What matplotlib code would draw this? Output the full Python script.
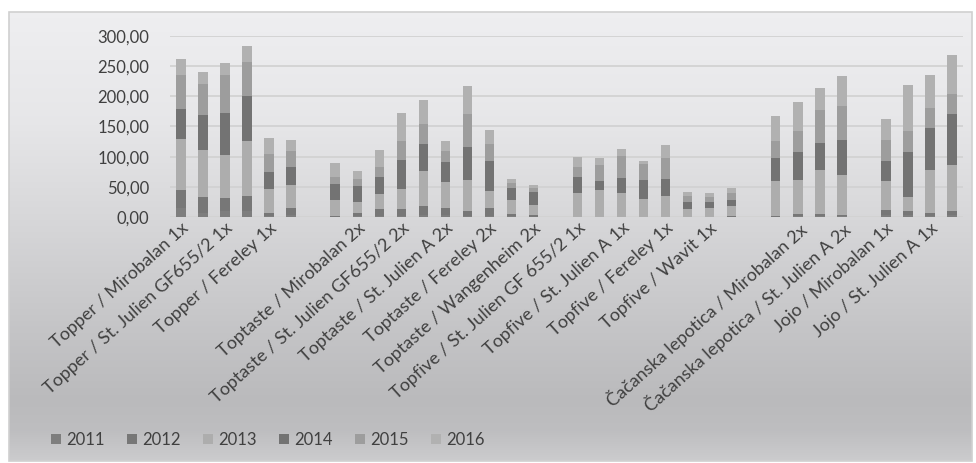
import numpy as np
import matplotlib.pyplot as plt
from matplotlib.patches import Rectangle

plt.rcParams['font.family'] = ['Lato', 'DejaVu Sans']

# cultivar / rootstock combinations, empty strings separate the cultivars
categories = [
    'Topper / Mirobalan 1x', 'Topper / Mirobalan 2x',
    'Topper / St. Julien GF655/2 1x', 'Topper / St. Julien GF655/2 2x',
    'Topper / Fereley 1x', 'Topper / Fereley 2x',
    '',
    'Toptaste / Mirobalan 1x', 'Toptaste / Mirobalan 2x',
    'Toptaste / St. Julien GF655/2 1x', 'Toptaste / St. Julien GF655/2 2x',
    'Toptaste / St. Julien A 1x', 'Toptaste / St. Julien A 2x',
    'Toptaste / Fereley 1x', 'Toptaste / Fereley 2x',
    'Toptaste / Wangenheim 1x', 'Toptaste / Wangenheim 2x',
    '',
    'Topfive / St. Julien GF 655/2 1x', 'Topfive / St. Julien GF 655/2 2x',
    'Topfive / St. Julien A 1x', 'Topfive / St. Julien A 2x',
    'Topfive / Fereley 1x', 'Topfive / Fereley 2x',
    'Topfive / Wavit 1x', 'Topfive / Wavit 2x',
    '',
    'Čačanska lepotica / Mirobalan 1x', 'Čačanska lepotica / Mirobalan 2x',
    'Čačanska lepotica / St. Julien A 1x', 'Čačanska lepotica / St. Julien A 2x',
    '',
    'Jojo / Mirobalan 1x', 'Jojo / Mirobalan 2x',
    'Jojo / St. Julien A 1x', 'Jojo / St. Julien A 2x',
]

years = ['2011', '2012', '2013', '2014', '2015', '2016']

y2011 = [15.6, 7.3, 9.4, 9.4, 2.0, 3.0, 0,
         0.5, 1.5, 2.0, 2.0, 3.0, 2.5, 2.0, 2.0, 1.0, 0.5, 0,
         0, 0, 0, 0, 0, 0, 0, 0.5, 0,
         0.5, 1.5, 1.5, 1.0, 0,
         3.0, 2.5, 1.5, 2.5]
y2012 = [29.8, 25.8, 22.1, 25.4, 4.6, 11.9, 0,
         1.2, 5.1, 11.9, 11.9, 15.2, 13.1, 7.9, 12.4, 4.6, 2.8, 0,
         0, 0, 0, 0, 0, 0, 0, 1.8, 0,
         1.8, 4.1, 4.1, 3.0, 0,
         9.3, 6.9, 5.1, 7.4]
y2013 = [84.4, 77.3, 70.7, 91.0, 39.8, 37.6, 0,
         27.1, 18.9, 24.8, 32.0, 58.0, 41.9, 50.9, 28.1, 22.0, 17.2, 0,
         40.4, 44.2, 40.4, 29.3, 34.3, 13.9, 15.6, 16.6, 0,
         56.8, 55.2, 71.7, 65.0, 0,
         46.8, 23.2, 70.7, 75.7]
y2014 = [49.7, 59.1, 70.0, 75.2, 27.6, 30.3, 0,
         26.5, 25.8, 27.0, 48.0, 44.7, 33.6, 54.6, 50.2, 21.1, 20.9, 0,
         25.3, 14.9, 23.7, 32.6, 29.3, 10.9, 9.2, 9.9, 0,
         38.1, 46.8, 44.7, 58.0, 0,
         33.1, 75.0, 69.6, 84.4]
y2015 = [56.5, 50.2, 62.4, 55.6, 29.8, 26.5, 0,
         11.6, 11.1, 17.7, 31.9, 33.1, 17.7, 55.1, 28.2, 8.0, 6.0, 0,
         17.1, 26.5, 37.6, 26.5, 33.6, 9.5, 7.8, 10.9, 0,
         28.1, 34.8, 55.8, 56.8, 0,
         34.8, 34.8, 33.6, 33.1]
y2016 = [26.0, 20.3, 20.4, 27.2, 27.0, 18.8, 0,
         22.0, 13.8, 27.5, 45.9, 39.2, 17.0, 46.4, 23.8, 5.7, 5.1, 0,
         17.1, 11.6, 10.9, 3.8, 22.7, 7.7, 7.8, 8.3, 0,
         41.4, 47.5, 35.3, 50.3, 0,
         35.9, 76.1, 54.6, 64.6]

series = [y2011, y2012, y2013, y2014, y2015, y2016]
colors = ['#7e7e7e', '#777777', '#adadad', '#737373', '#9d9d9d', '#b1b1b1']
text_color = '#404040'

fig = plt.figure(figsize=(9.76, 4.63), dpi=100)

# grey gradient panel behind the chart
bg = fig.add_axes([9 / 976, 2 / 463, 963 / 976, 449 / 463], zorder=-2)
stops_y = [0, 108, 205, 318, 388, 418, 449]
stops_v = [0.935, 0.905, 0.845, 0.77, 0.73, 0.745, 0.80]
rows = np.interp(np.arange(449), stops_y, stops_v)
grad = np.repeat(rows[:, None], 4, axis=1)
bg.imshow(np.dstack([grad, grad, grad + 0.008]).clip(0, 1), aspect='auto',
          extent=[0, 1, 0, 1])
bg.set_xlim(0, 1)
bg.set_ylim(0, 1)
bg.axis('off')
bg.add_patch(Rectangle((0, 0), 1, 1, transform=bg.transAxes, fill=False,
                       edgecolor='#d0d0d0', lw=1.2, clip_on=False))

ax = fig.add_axes([170 / 976, 1 - 217 / 463, 793 / 976, 181 / 463])
ax.patch.set_alpha(0)

x = np.arange(len(categories))
bottom = np.zeros(len(categories))
handles = []
for year, vals, col in zip(years, series, colors):
    vals = np.array(vals)
    bars = ax.bar(x, vals, width=0.43, bottom=bottom, color=col,
                  edgecolor='none', zorder=3, label=year)
    bottom += vals
    handles.append(bars)

ax.set_xlim(-0.5, len(categories) - 0.5)
ax.set_ylim(0, 300)
ax.set_yticks(np.arange(0, 301, 50))
ax.set_yticklabels([f'{v:.2f}'.replace('.', ',') for v in np.arange(0, 301, 50)],
                   fontsize=12, color=text_color)
ax.yaxis.grid(True, color='#d2d2d2', lw=1.3, zorder=0)
ax.set_axisbelow(True)

# every second category label is shown
ax.set_xticks(x[::2])
ax.set_xticklabels(categories[::2], rotation=42, ha='right', va='top',
                   rotation_mode='anchor', fontsize=13, color=text_color)
ax.tick_params(axis='both', length=0)
ax.tick_params(axis='y', pad=15)
ax.tick_params(axis='x', pad=2)
for s in ax.spines.values():
    s.set_visible(False)

leg = fig.legend(handles, years, loc='lower left',
                 bbox_to_anchor=(36 / 976, 0 / 463), ncol=6, frameon=False,
                 fontsize=12, handlelength=0.6, handleheight=0.6,
                 handletextpad=0.3, columnspacing=1.35)
for t in leg.get_texts():
    t.set_color(text_color)

fig.savefig('out.png', dpi=100)
